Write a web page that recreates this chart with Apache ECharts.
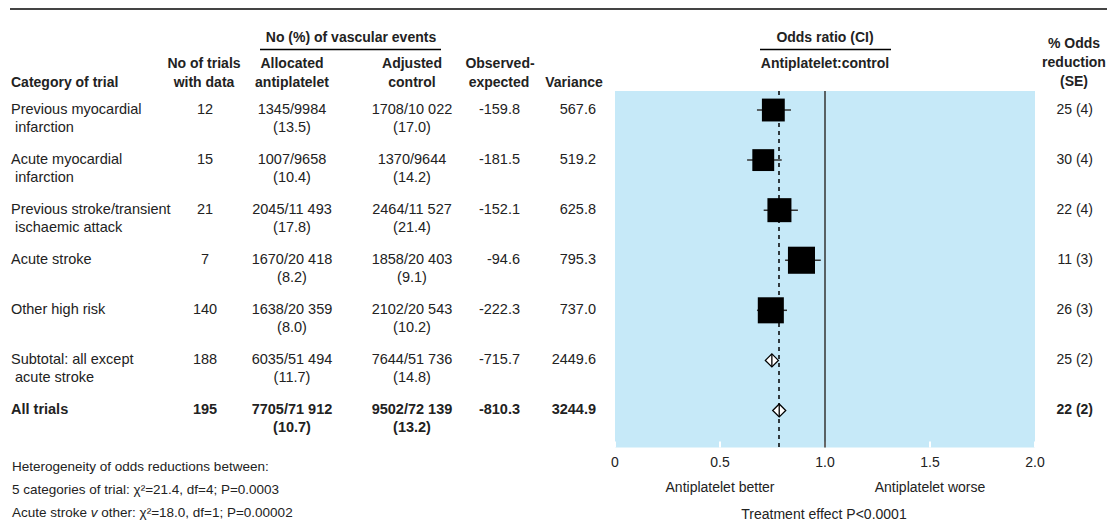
<!DOCTYPE html>
<html><head><meta charset="utf-8">
<script src="https://cdn.jsdelivr.net/npm/echarts@6/dist/echarts.min.js"></script>
<style>html,body{margin:0;padding:0;background:#fff}#chart{width:1107px;height:525px}</style>
</head><body><div id="chart"></div>
<script>
// ---- data ----
const categories = ["Previous myocardial\n infarction", "Acute myocardial\n infarction", "Previous stroke/transient\n ischaemic attack", "Acute stroke", "Other high risk", "Subtotal: all except\n acute stroke", "All trials"];
const nTrials = [12, 15, 21, 7, 140, 188, 195];
const antiEvents = ["1345/9984", "1007/9658", "2045/11 493", "1670/20 418", "1638/20 359", "6035/51 494", "7705/71 912"];
const antiPct = ["13.5", "10.4", "17.8", "8.2", "8.0", "11.7", "10.7"];
const ctrlEvents = ["1708/10 022", "1370/9644", "2464/11 527", "1858/20 403", "2102/20 543", "7644/51 736", "9502/72 139"];
const ctrlPct = ["17.0", "14.2", "21.4", "9.1", "10.2", "14.8", "13.2"];
const obsExp = ["-159.8", "-181.5", "-152.1", "-94.6", "-222.3", "-715.7", "-810.3"];
const variance = ["567.6", "519.2", "625.8", "795.3", "737.0", "2449.6", "3244.9"];
const oddsRatio = [0.754, 0.706, 0.783, 0.888, 0.742, 0.747, 0.782];
const ciLow = [0.676, 0.629, 0.708, 0.810, 0.676, null, null];
const ciHigh = [0.838, 0.794, 0.871, 0.980, 0.819, null, null];
const oddsReduction = [25, 30, 22, 11, 26, 25, 22];
const reductionSE = [4, 4, 4, 3, 3, 2, 2];
const xTicks = [0, 0.5, 1.0, 1.5, 2.0];

// ---- chart ----
const FONT = '"Liberation Sans","Arial",sans-serif';
const INK = '#222';
const chart = echarts.init(document.getElementById('chart'), null, {renderer: 'svg'});
const lastRow = categories.length - 1;

function tableItem(params, api) {
  const i = params.dataIndex;
  const y = api.coord([0, i])[1] - 1;
  const bold = i === lastRow;
  const font = (bold ? 'bold ' : '') + '14.5px ' + FONT;
  const t = (text, x, yy, align, f) => ({type: 'text', silent: true, style: {text: text, x: x, y: yy, align: align, verticalAlign: 'middle', font: f || font, fill: INK}});
  const lines = categories[i].split('\n');
  const els = [];
  lines.forEach((ln, k) => els.push(t(ln, 11, y + k * 18, 'left')));
  els.push(t(String(nTrials[i]), 205, y, 'center'));
  els.push(t(antiEvents[i], 292, y, 'center'));
  els.push(t('(' + antiPct[i] + ')', 292, y + 18, 'center'));
  els.push(t(ctrlEvents[i], 412, y, 'center'));
  els.push(t('(' + ctrlPct[i] + ')', 412, y + 18, 'center'));
  els.push(t(obsExp[i], 520, y, 'right'));
  els.push(t(variance[i], 596, y, 'right'));
  els.push(t(oddsReduction[i] + ' (' + reductionSE[i] + ')', 1093, y, 'right', (bold ? 'bold ' : '') + '14px ' + FONT));
  return {type: 'group', children: els};
}

function markItem(params, api) {
  const i = params.dataIndex;
  const c = api.coord([oddsRatio[i], i]);
  if (ciLow[i] == null) {
    const h = 6.5;
    return {type: 'group', children: [
      {type: 'polygon', shape: {points: [[c[0] - h, c[1]], [c[0], c[1] - h], [c[0] + h, c[1]], [c[0], c[1] + h]]},
        style: {fill: '#fff', stroke: '#000', lineWidth: 1.3}},
      {type: 'line', shape: {x1: c[0], y1: c[1] - h, x2: c[0], y2: c[1] + h}, style: {stroke: '#000', lineWidth: 1.3}}
    ]};
  }
  const lo = api.coord([ciLow[i], i]);
  const hi = api.coord([ciHigh[i], i]);
  const s = 0.96 * Math.sqrt(parseFloat(variance[i]));
  return {type: 'group', children: [
    {type: 'line', shape: {x1: lo[0], y1: lo[1], x2: hi[0], y2: hi[1]}, style: {stroke: '#333', lineWidth: 1.5}},
    {type: 'rect', shape: {x: c[0] - s / 2, y: c[1] - s / 2, width: s, height: s}, style: {fill: '#000'}}
  ]};
}

const txt = (text, x, y, align, font) => ({
  type: 'text', silent: true,
  style: {text: text, x: x, y: y, align: align, verticalAlign: 'middle', font: font, fill: INK}
});
const HB = 'bold 14px ' + FONT;
const BODY = '14px ' + FONT;
const FOOT = '13.5px ' + FONT;

const graphics = [
  {type: 'line', shape: {x1: 10, y1: 9, x2: 1107, y2: 9}, style: {stroke: '#444', lineWidth: 2}},
  txt('No (%) of vascular events', 351, 37, 'center', HB),
  {type: 'line', shape: {x1: 260, y1: 49.5, x2: 441, y2: 49.5}, style: {stroke: '#000', lineWidth: 1.5}},
  txt('Category of trial', 11, 82, 'left', HB),
  txt('No of trials', 204, 63, 'center', HB),
  txt('with data', 204, 82, 'center', HB),
  txt('Allocated', 292, 63, 'center', HB),
  txt('antiplatelet', 292, 82, 'center', HB),
  txt('Adjusted', 412, 63, 'center', HB),
  txt('control', 412, 82, 'center', HB),
  txt('Observed-', 500, 63, 'center', HB),
  txt('expected', 499, 82, 'center', HB),
  txt('Variance', 574, 82, 'center', HB),
  txt('Odds ratio (CI)', 825, 37, 'center', HB),
  {type: 'line', shape: {x1: 760, y1: 49.5, x2: 891, y2: 49.5}, style: {stroke: '#000', lineWidth: 1.5}},
  txt('Antiplatelet:control', 825, 63, 'center', HB),
  txt('% Odds', 1074, 43, 'center', HB),
  txt('reduction', 1074, 62, 'center', HB),
  txt('(SE)', 1074, 81, 'center', HB),
  txt('Antiplatelet better', 720, 487, 'center', BODY),
  txt('Antiplatelet worse', 930, 487, 'center', BODY),
  txt('Treatment effect P<0.0001', 824, 514, 'center', BODY),
  txt('Heterogeneity of odds reductions between:', 12, 466, 'left', FOOT),
  txt('5 categories of trial: \u03c7\u00b2=21.4, df=4; P=0.0003', 12, 489, 'left', FOOT),
  {type: 'text', silent: true, style: {
    text: '{n|Acute stroke }{i|v}{n| other: \u03c7\u00b2=18.0, df=1; P=0.00002}', x: 12, y: 512, verticalAlign: 'middle',
    rich: {n: {font: FOOT, fill: INK}, i: {font: 'italic ' + FOOT, fill: INK}}
  }}
];

chart.setOption({
  animation: false,
  grid: {left: 615, width: 420, top: 91, height: 356.5, show: true, backgroundColor: '#c6e9f8', borderWidth: 0},
  xAxis: {
    type: 'value', min: xTicks[0], max: xTicks[xTicks.length - 1], interval: 0.5,
    axisLine: {show: false, onZero: false}, splitLine: {show: false},
    axisTick: {show: true, inside: true, length: 6, lineStyle: {color: '#fff', width: 2}},
    axisLabel: {margin: 7, fontFamily: FONT, fontSize: 14, color: INK,
      formatter: v => v === 0 ? '0' : v.toFixed(1)}
  },
  yAxis: {type: 'value', inverse: true, min: -0.38, max: 6.74, show: false},
  graphic: graphics,
  series: [
    {
      type: 'custom', renderItem: markItem, clip: false,
      data: oddsRatio.map((v, i) => [v, i]),
      encode: {x: 0, y: 1}, z: 5,
      markLine: {
        silent: true, symbol: 'none', label: {show: false},
        data: [
          {xAxis: oddsRatio[lastRow], lineStyle: {type: [4, 4], color: '#000', width: 1.5}},
          {xAxis: 1, lineStyle: {type: 'solid', color: '#333', width: 1.5}}
        ]
      }
    },
    {
      type: 'custom', renderItem: tableItem, clip: false,
      data: categories.map((c, i) => [0, i]),
      encode: {x: 0, y: 1}, z: 6
    }
  ]
});
</script></body></html>
